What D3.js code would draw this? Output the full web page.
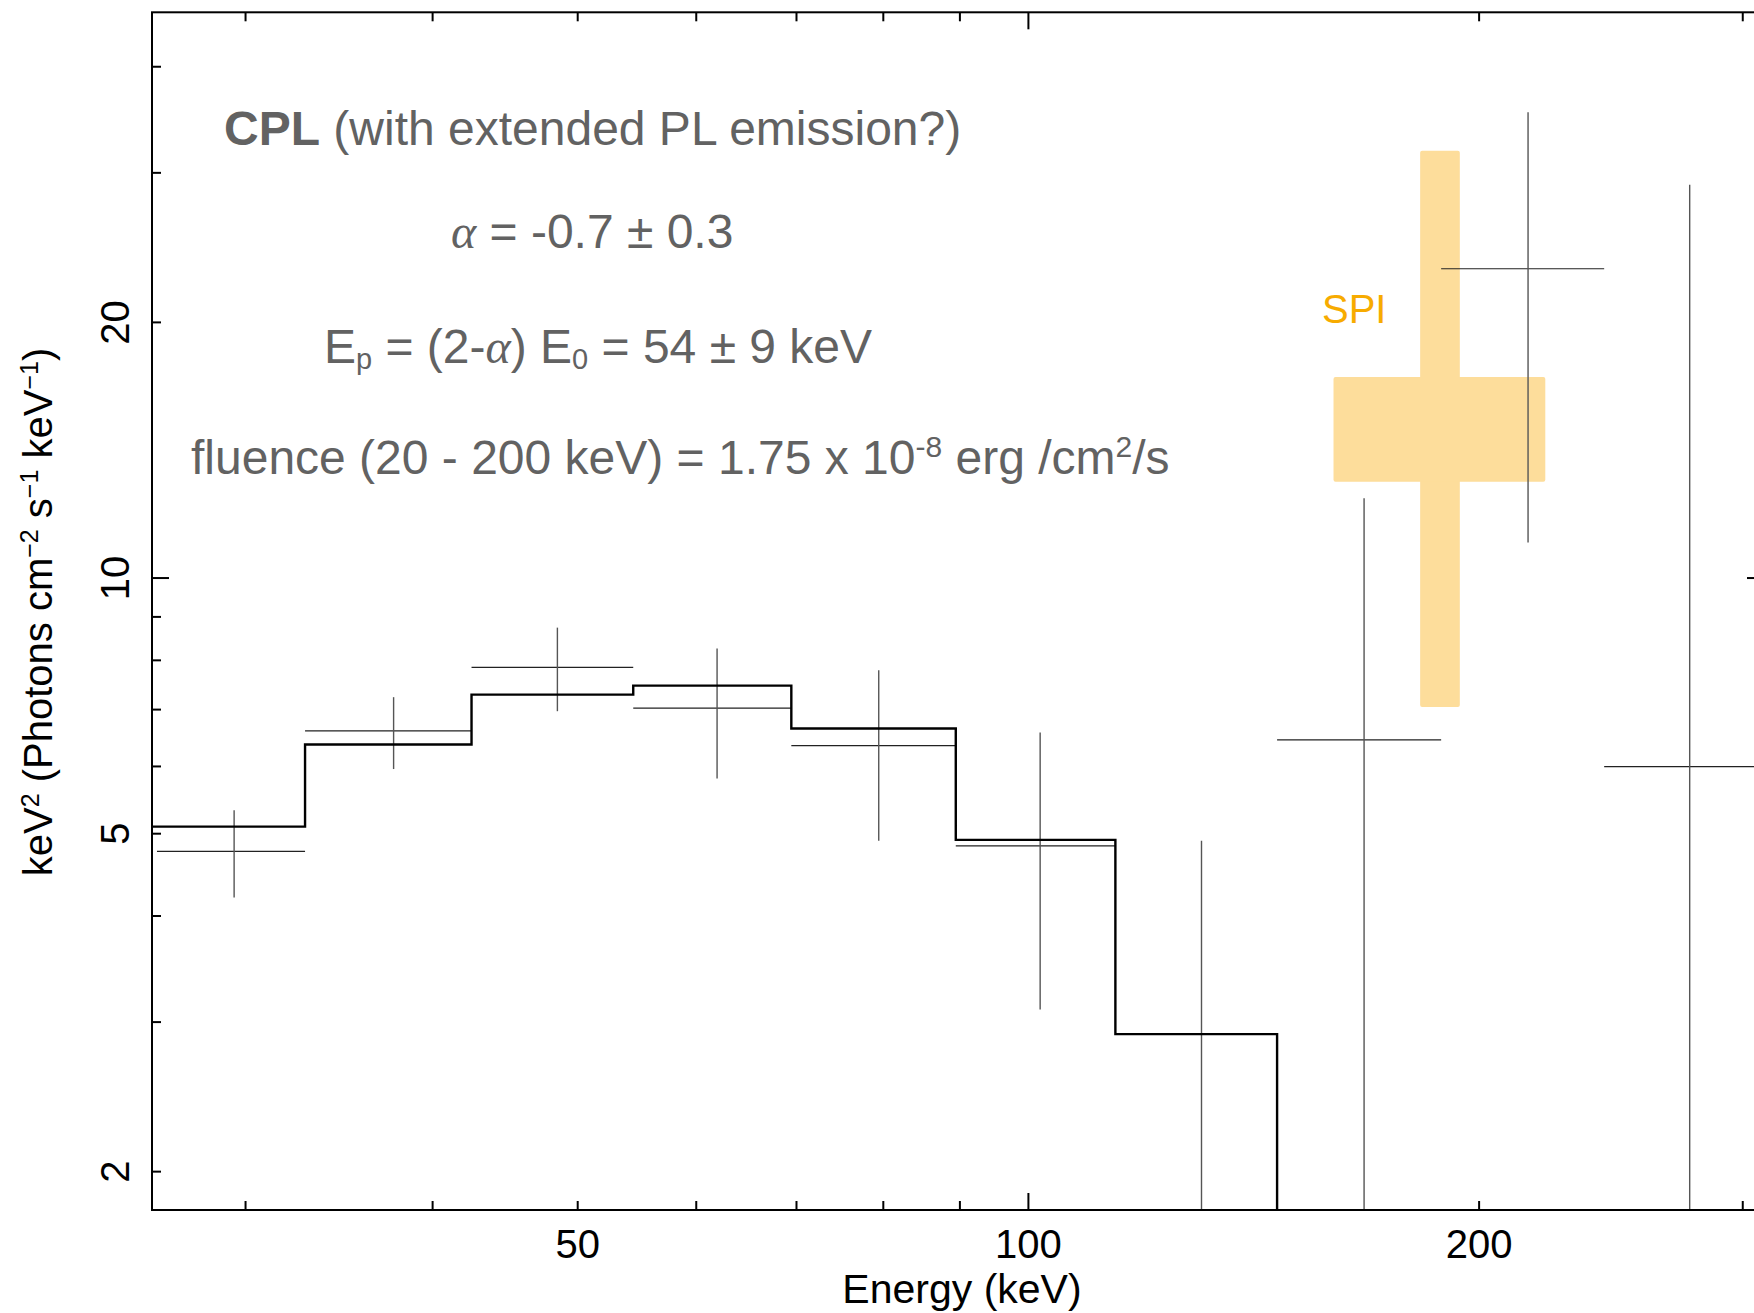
<!DOCTYPE html>
<html>
<head>
<meta charset="utf-8">
<script src="https://cdn.jsdelivr.net/npm/d3@7"></script>
<style>
  body { margin: 0; background: #fff; }
  svg { display: block; font-family: "Liberation Sans", Arial, Helvetica, sans-serif; }
  text { white-space: pre; }
</style>
</head>
<body>
<div id="chart"></div>
<script>
// Spectrum: E (keV) vs keV^2 (Photons cm-2 s-1 keV-1)

// Data bins (edges, centre) and values with error range
const binLo  = [26.2, 32.9, 42.5, 54.5, 69.5, 89.5, 114.4, 146.7, 188.8, 242.6]
const binHi  = [32.9, 42.5, 54.5, 69.5, 89.5, 114.4, 146.7, 188.8, 242.6, 311]
const binMid = [29.5, 37.7, 48.5, 62.0, 79.5, 101.9, 130.6, 167.7, 215.8, 276.7]
const flux   = [4.76, 6.60, 7.84, 7.02, 6.34, 4.83, 1.20, 6.44, 23.1, 5.99]
const fluxLo = [4.20, 5.95, 6.96, 5.80, 4.90, 3.10, 0.30, 0.50, 11.0, 0.50]
const fluxHi = [5.32, 7.23, 8.73, 8.25, 7.78, 6.57, 4.90, 12.4, 35.3, 29.0]

// CPL model, drawn as steps
const modelEdges = [26.0, 32.9, 42.5, 54.5, 69.5, 89.5, 114.4, 146.7, 188.8, 242.6, 311]
const modelFlux  = [5.09, 6.36, 7.28, 7.46, 6.64, 4.91, 2.90, 1.20, 0.60, 0.30]

// SPI measurement (box + error bar)
const spiE     = [160, 221.6]
const spiEbar  = [182.8, 194.3]
const spiF     = [12.97, 17.23]
const spiFerr  = [7.04, 31.8]

// Axis ticks (long tick only at the decade)
const xTicks  = [30, 40, 50, 60, 70, 80, 90, 100, 200, 300]
const xLabels = [50, 100, 200]
const xLong   = [100]
const yTicks  = [2, 3, 4, 5, 6, 7, 8, 9, 10, 20, 30, 40]
const yLabels = [2, 5, 10, 20]
const yLong   = [10]

const W = 1754, H = 1313
const frame = { left: 152, right: 1764, top: 12.3, bottom: 1210 }
const longTick = 17, shortTick = 9

let svg = d3.select('#chart').append('svg')
    .attr('width', W)
    .attr('height', H)

let x = d3.scaleLog().domain([26.0, 310.2]).range([frame.left, frame.right])
let y = d3.scaleLog().domain([1.80, 46.3]).range([frame.bottom, frame.top])

svg.append('clipPath').attr('id', 'plot-clip')
  .append('rect')
  .attr('x', frame.left).attr('y', frame.top)
  .attr('width', frame.right - frame.left)
  .attr('height', frame.bottom - frame.top)

let plot = svg.append('g').attr('clip-path', 'url(#plot-clip)')

// SPI cross
let spiColor = '#fddd9b'
plot.append('rect')
  .attr('x', x(spiEbar[0])).attr('width', x(spiEbar[1]) - x(spiEbar[0]))
  .attr('y', y(spiFerr[1])).attr('height', y(spiFerr[0]) - y(spiFerr[1]))
  .attr('rx', 2)
  .attr('fill', spiColor)
plot.append('rect')
  .attr('x', x(spiE[0])).attr('width', x(spiE[1]) - x(spiE[0]))
  .attr('y', y(spiF[1])).attr('height', y(spiF[0]) - y(spiF[1]))
  .attr('rx', 2)
  .attr('fill', spiColor)

// Data crosses
let idx = d3.range(binMid.length)
plot.selectAll('.xerr').data(idx).join('line')
  .attr('class', 'xerr')
  .attr('x1', i => x(binLo[i])).attr('x2', i => x(binHi[i]))
  .attr('y1', i => y(flux[i])).attr('y2', i => y(flux[i]))
  .attr('stroke', '#222').attr('stroke-width', 1.2)
plot.selectAll('.yerr').data(idx).join('line')
  .attr('class', 'yerr')
  .attr('x1', i => x(binMid[i])).attr('x2', i => x(binMid[i]))
  .attr('y1', i => y(fluxLo[i])).attr('y2', i => y(fluxHi[i]))
  .attr('stroke', '#555').attr('stroke-width', 1.4)

// Model step line
let steps = modelEdges.map((e, i) => [e, modelFlux[Math.min(i, modelFlux.length - 1)]])
plot.append('path')
  .datum(steps)
  .attr('fill', 'none')
  .attr('stroke', '#000')
  .attr('stroke-width', 2.4)
  .attr('d', d3.line().x(d => x(d[0])).y(d => y(d[1])).curve(d3.curveStepAfter))

// Axes (ticks inward on all four sides)
function axisSide(axis, pos, labels, longs, sign, horizontal) {
  let fmt = d => labels.includes(d) ? d3.format('d')(d) : ''
  let g = svg.append('g')
    .attr('transform', horizontal ? 'translate(0,' + pos + ')' : 'translate(' + pos + ',0)')
    .call(axis.tickFormat(fmt).tickSizeInner(-shortTick).tickSizeOuter(0))
  g.attr('font-size', 40).attr('font-family', null)
  g.select('.domain').remove()
  g.selectAll('.tick line')
    .attr('stroke-width', 2)
    .attr(horizontal ? 'y2' : 'x2', d => sign * (longs.includes(d) ? longTick : shortTick))
  g.selectAll('.tick text').attr('fill', '#000')
  return g
}

let xBottom = d3.axisBottom(x).tickValues(xTicks).tickPadding(20 - shortTick)
axisSide(xBottom, frame.bottom, xLabels, xLong, -1, true)
  .selectAll('.tick text').attr('y', 20)
axisSide(d3.axisTop(x).tickValues(xTicks), frame.top, [], xLong, 1, true)

axisSide(d3.axisLeft(y).tickValues(yTicks), frame.left, yLabels, yLong, 1, false)
  .selectAll('.tick text')
    .attr('transform', 'rotate(-90)')
    .attr('x', 0).attr('y', -23).attr('dy', 0)
    .attr('text-anchor', 'middle')
axisSide(d3.axisRight(y).tickValues(yTicks), frame.right, [], yLong, -1, false)

// Frame
svg.append('rect')
  .attr('x', frame.left).attr('y', frame.top)
  .attr('width', frame.right - frame.left)
  .attr('height', frame.bottom - frame.top)
  .attr('fill', 'none')
  .attr('stroke', '#000')
  .attr('stroke-width', 2)

// Axis titles
svg.append('text')
  .attr('x', 962).attr('y', 1303)
  .attr('text-anchor', 'middle')
  .attr('font-size', 41)
  .text('Energy (keV)')

let yTitle = svg.append('text')
  .attr('transform', 'translate(52,612) rotate(-90)')
  .attr('text-anchor', 'middle')
  .attr('font-size', 40)
yTitle.append('tspan').text('keV')
yTitle.append('tspan').attr('font-size', 25).attr('dy', -13).text('2')
yTitle.append('tspan').attr('dy', 13).text(' (Photons cm')
yTitle.append('tspan').attr('font-size', 25).attr('dy', -14).text('\u22122')
yTitle.append('tspan').attr('dy', 14).text(' s')
yTitle.append('tspan').attr('font-size', 25).attr('dy', -14).text('\u22121')
yTitle.append('tspan').attr('dy', 14).text(' keV')
yTitle.append('tspan').attr('font-size', 25).attr('dy', -14).text('\u22121')
yTitle.append('tspan').attr('dy', 14).text(')')

// SPI label
svg.append('text')
  .attr('x', 1322).attr('y', 323)
  .attr('font-size', 40)
  .attr('fill', '#f7ab00')
  .text('SPI')

// Fit annotations
let notes = svg.append('g').attr('fill', '#626262').attr('font-size', 48)
let serif = '"Liberation Serif", "DejaVu Serif", serif'

let l1 = notes.append('text').attr('x', 224).attr('y', 145)
l1.append('tspan').attr('font-weight', 'bold').text('CPL')
l1.append('tspan').text(' (with extended PL emission?)')

let l2 = notes.append('text').attr('x', 451).attr('y', 248)
l2.append('tspan').attr('font-family', serif).attr('font-style', 'italic').text('\u03b1')
l2.append('tspan').text(' = -0.7 \u00b1 0.3')

let l3 = notes.append('text').attr('x', 324).attr('y', 363)
l3.append('tspan').text('E')
l3.append('tspan').attr('font-size', 29).attr('dy', 6).text('p')
l3.append('tspan').attr('dy', -6).text(' = (2-')
l3.append('tspan').attr('font-family', serif).attr('font-style', 'italic').text('\u03b1')
l3.append('tspan').text(') E')
l3.append('tspan').attr('font-size', 29).attr('dy', 6).text('0')
l3.append('tspan').attr('dy', -6).text(' = 54 \u00b1 9 keV')

let l4 = notes.append('text').attr('x', 191).attr('y', 474)
l4.append('tspan').text('fluence (20 - 200 keV) = 1.75 x 10')
l4.append('tspan').attr('font-size', 30).attr('dy', -17).text('-8')
l4.append('tspan').attr('dy', 17).text(' erg /cm')
l4.append('tspan').attr('font-size', 30).attr('dy', -17).text('2')
l4.append('tspan').attr('dy', 17).text('/s')
</script>
</body>
</html>
